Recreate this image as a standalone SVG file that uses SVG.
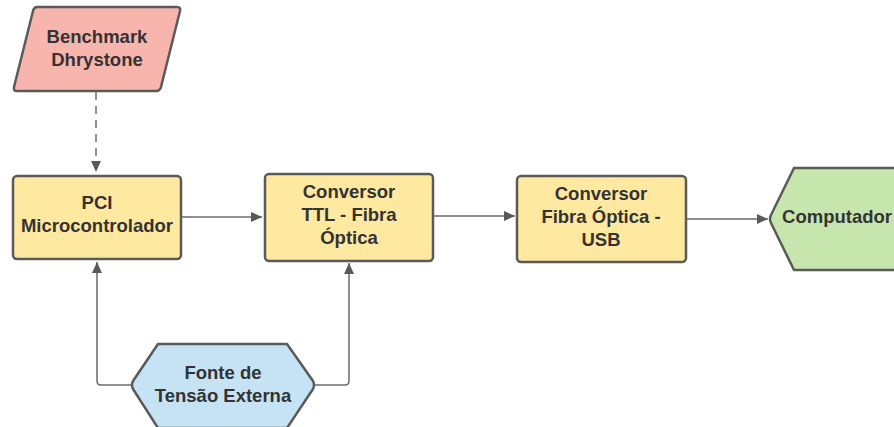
<svg xmlns="http://www.w3.org/2000/svg" width="894" height="427" viewBox="0 0 894 427">
<defs>
<marker id="ah" markerWidth="12" markerHeight="12" viewBox="0 0 12 12" refX="11" refY="6" orient="auto" markerUnits="userSpaceOnUse">
<path d="M0,1 L11,6 L0,11 Z" fill="#595959"/>
</marker>
<style>
.n{stroke:#5a5a5a;stroke-width:2.5;stroke-linejoin:round}
.t{font-family:"Liberation Sans",Arial,sans-serif;font-weight:bold;font-size:18.5px;fill:#333;text-anchor:middle}
.c{fill:none;stroke:#6b6b6b;stroke-width:1.5}
</style>
</defs>
<rect width="894" height="427" fill="#fff"/>
<g id="connectors">
<path class="c" d="M96,92 L96,172" stroke-dasharray="8,6" marker-end="url(#ah)"/>
<path class="c" d="M181,217 L262,217" marker-end="url(#ah)"/>
<path class="c" d="M433,216 L515,216" marker-end="url(#ah)"/>
<path class="c" d="M686,219 L768,219" marker-end="url(#ah)"/>
<path class="c" d="M132,385 L101,385 Q97,385 97,381 L97,262" marker-end="url(#ah)"/>
<path class="c" d="M314,385 L345,385 Q349,385 349,381 L349,263" marker-end="url(#ah)"/>
</g>
<g id="benchmark">
<path class="n" fill="#F8B5AE" d="M37,7 L177,7 Q181,7 180,11 L161,87 Q160,91 156,91 L17,91 Q13,91 14,87 L33,11 Q34,7 37,7 Z"/>
<text class="t" x="97" y="43">Benchmark</text>
<text class="t" x="97" y="66">Dhrystone</text>
</g>
<g id="pci">
<rect class="n" fill="#FFE8A0" x="13" y="176" width="168" height="83" rx="4"/>
<text class="t" x="97" y="209">PCI</text>
<text class="t" x="97" y="232">Microcontrolador</text>
</g>
<g id="ttl">
<rect class="n" fill="#FFE8A0" x="265" y="174" width="168" height="87" rx="4"/>
<text class="t" x="349" y="198">Conversor</text>
<text class="t" x="349" y="221">TTL - Fibra</text>
<text class="t" x="349" y="244">Óptica</text>
</g>
<g id="fibra">
<rect class="n" fill="#FFE8A0" x="517" y="176" width="169" height="86" rx="4"/>
<text class="t" x="601" y="200">Conversor</text>
<text class="t" x="601" y="223">Fibra Óptica -</text>
<text class="t" x="601" y="246">USB</text>
</g>
<g id="computador">
<path class="n" fill="#C7E6AE" d="M794,168 L900,168 L900,270 L794,270 L771,223 Q769,219 771,215 Z"/>
<text class="t" x="837" y="223">Computador</text>
</g>
<g id="fonte">
<path class="n" fill="#C6E3F5" d="M158,344 L287,344 L313,381 Q315,385 313,389 L287,428 L158,428 L133,389 Q131,385 133,381 Z"/>
<text class="t" x="223" y="379">Fonte de</text>
<text class="t" x="223" y="402">Tensão Externa</text>
</g>
</svg>
